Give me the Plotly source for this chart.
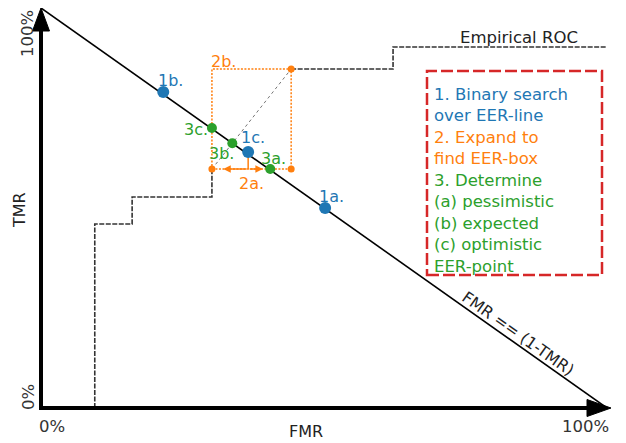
import plotly.graph_objects as go

# ---------------- data ----------------
eer_line_x = [0.0, 1.0]
eer_line_y = [1.0, 0.0]

roc_low_x = [0.095, 0.095, 0.161, 0.161, 0.302, 0.302]
roc_low_y = [0.0, 0.46, 0.46, 0.5275, 0.5275, 0.5975]
roc_high_x = [0.442, 0.622, 0.622, 1.0]
roc_high_y = [0.8475, 0.8475, 0.9025, 0.9025]

search_labels = ["1a.", "1b.", "1c."]
search_x = [0.502, 0.216, 0.366]
search_y = [0.500, 0.790, 0.640]

box_x = [0.302, 0.442]
box_y = [0.5975, 0.8475]
corner_x = [0.302, 0.442, 0.442]
corner_y = [0.5975, 0.5975, 0.8475]

eer_labels = ["3a.", "3b.", "3c."]
eer_x = [0.405, 0.338, 0.302]
eer_y = [0.5975, 0.662, 0.700]

box_lines = ["1. Binary search", "over EER-line", "2. Expand to", "find EER-box",
             "3. Determine", "(a) pessimistic", "(b) expected", "(c) optimistic", "EER-point"]
box_line_colors = ["blue", "blue", "orange", "orange", "green", "green", "green", "green", "green"]

# ---------------- style ----------------
BLUE, ORANGE, GREEN, RED = "#1f77b4", "#ff7f0e", "#2ca02c", "#d62728"
cmap = {"blue": BLUE, "orange": ORANGE, "green": GREEN}
FONT = "DejaVu Sans"
W, H = 626, 443
OFF = 8                      # page body margin of the browser
L, T = 41, 8                 # plot-area corner as seen in the screenshot
PW, PH = 566, 400            # plot-area size


def px(xp):
    return (xp - L) / PW


def py(yp):
    return (T + PH - yp) / PH


fig = go.Figure()

# empirical ROC (dashed step line)
for xs, ys in [(roc_low_x, roc_low_y), (roc_high_x, roc_high_y)]:
    fig.add_trace(go.Scatter(x=xs, y=ys, mode="lines",
                             line=dict(color="#333333", width=1.6, dash="5px,1.5px"),
                             hoverinfo="skip", cliponaxis=False))

# EER box (orange dotted)
bx = [box_x[0], box_x[1], box_x[1], box_x[0], box_x[0]]
by = [box_y[0], box_y[0], box_y[1], box_y[1], box_y[0]]
fig.add_trace(go.Scatter(x=bx, y=by, mode="lines",
                         line=dict(color=ORANGE, width=1.5, dash="2px,1.5px"), hoverinfo="skip"))
# box diagonal (gray dotted)
fig.add_trace(go.Scatter(x=box_x, y=box_y, mode="lines",
                         line=dict(color="#777777", width=1, dash="dot"), hoverinfo="skip"))
# 2a drop line from 1c to box bottom
fig.add_trace(go.Scatter(x=[search_x[2], search_x[2]], y=[search_y[2], box_y[0]], mode="lines",
                         line=dict(color=ORANGE, width=1.5), hoverinfo="skip"))

# EER line
fig.add_trace(go.Scatter(x=eer_line_x, y=eer_line_y, mode="lines",
                         line=dict(color="black", width=1.6), hoverinfo="skip", cliponaxis=False))

# orange corner dots
fig.add_trace(go.Scatter(x=corner_x, y=corner_y, mode="markers",
                         marker=dict(color=ORANGE, size=7), hoverinfo="skip"))
# green EER points
fig.add_trace(go.Scatter(x=eer_x, y=eer_y, mode="markers",
                         marker=dict(color=GREEN, size=10), hoverinfo="skip"))
# blue search points
fig.add_trace(go.Scatter(x=search_x, y=search_y, mode="markers",
                         marker=dict(color=BLUE, size=12), hoverinfo="skip"))

ann = []
lab_font = dict(family=FONT, size=16)

search_shift = {"1a.": (6, 12), "1b.": (7, 12), "1c.": (5, 15)}
for lab, x, y in zip(search_labels, search_x, search_y):
    sx, sy = search_shift[lab]
    ann.append(dict(x=x, y=y, text=lab, showarrow=False, xshift=sx, yshift=sy,
                    xanchor="center", yanchor="middle", font=dict(lab_font, color=BLUE)))
eer_shift = {"3a.": (3, 11), "3b.": (-11, -10), "3c.": (-16, -1)}
for lab, x, y in zip(eer_labels, eer_x, eer_y):
    sx, sy = eer_shift[lab]
    ann.append(dict(x=x, y=y, text=lab, showarrow=False, xshift=sx, yshift=sy,
                    xanchor="center", yanchor="middle", font=dict(lab_font, color=GREEN)))
ann.append(dict(x=box_x[0], y=box_y[1], text="2b.", showarrow=False, xshift=12, yshift=8,
                xanchor="center", yanchor="middle", font=dict(lab_font, color=ORANGE)))
ann.append(dict(x=search_x[2], y=box_y[0], text="2a.", showarrow=False, xshift=3, yshift=-14,
                xanchor="center", yanchor="middle", font=dict(lab_font, color=ORANGE)))
# 2a double arrow
for tx in [0.322, 0.392]:
    ann.append(dict(x=tx, y=box_y[0], ax=search_x[2], ay=box_y[0], axref="x", ayref="y",
                    xref="x", yref="y", text="", showarrow=True, arrowhead=2,
                    arrowsize=1, arrowwidth=1.5, arrowcolor=ORANGE))

ann.append(dict(x=0.845, y=roc_high_y[-1], text="Empirical ROC", showarrow=False, yshift=10,
                xanchor="center", yanchor="middle",
                font=dict(family=FONT, size=16.5, color="#222222")))
ann.append(dict(x=0.843, y=0.1875, text="FMR == (1-TMR)", showarrow=False, textangle=35.3,
                xanchor="center", yanchor="middle",
                font=dict(family=FONT, size=16, color="#222222")))

# explanation box text
txt = "<br>".join(f"<span style='color:{cmap[c]}'>{s}</span>" for s, c in zip(box_lines, box_line_colors))
ann.append(dict(xref="paper", yref="paper", x=px(432), y=py(180), xanchor="left", yanchor="middle",
                text=txt, align="left", showarrow=False, font=dict(family=FONT, size=16.5)))

# axis labels / ticks
tick_font = dict(family=FONT, size=16.5, color="#333333")
ann += [
    dict(xref="paper", yref="paper", x=px(37), y=py(426), text="0%", xanchor="left",
         yanchor="middle", showarrow=False, font=tick_font),
    dict(xref="paper", yref="paper", x=px(611), y=py(426), text="100%", xanchor="right",
         yanchor="middle", showarrow=False, font=tick_font),
    dict(xref="paper", yref="paper", x=px(28), y=py(397), text="0%", textangle=-90,
         xanchor="center", yanchor="middle", showarrow=False, font=tick_font),
    dict(xref="paper", yref="paper", x=px(28), y=py(34), text="100%", textangle=-90,
         xanchor="center", yanchor="middle", showarrow=False, font=tick_font),
    dict(xref="paper", yref="paper", x=px(306), y=py(431), text="FMR",
         xanchor="center", yanchor="middle", showarrow=False,
         font=dict(family=FONT, size=16, color="#222222")),
    dict(xref="paper", yref="paper", x=px(19), y=py(210), text="TMR", textangle=-90,
         xanchor="center", yanchor="middle", showarrow=False,
         font=dict(family=FONT, size=16, color="#222222")),
]

shapes = [
    # red dashed explanation box
    dict(type="rect", xref="paper", yref="paper", x0=px(427), x1=px(602), y0=py(275), y1=py(71),
         line=dict(color=RED, width=2.5, dash="12px,4px")),
    # axes
    dict(type="line", xref="paper", yref="paper", x0=px(41), y0=py(410), x1=px(41), y1=py(25),
         line=dict(color="black", width=4)),
    dict(type="line", xref="paper", yref="paper", x0=px(39), y0=py(408), x1=px(592), y1=py(408),
         line=dict(color="black", width=4)),
    dict(type="path", xref="paper", yref="paper",
         path=f"M {px(41)} {py(8)} L {px(32.5)} {py(31)} L {px(49.5)} {py(31)} Z",
         fillcolor="black", line=dict(color="black", width=1)),
    dict(type="path", xref="paper", yref="paper",
         path=f"M {px(611)} {py(408)} L {px(587)} {py(399.5)} L {px(587)} {py(416.5)} Z",
         fillcolor="black", line=dict(color="black", width=1)),
]

fig.update_layout(
    width=W, height=H,
    margin=dict(l=L - OFF, t=T - OFF, r=W - (L - OFF) - PW, b=H - (T - OFF) - PH),
    paper_bgcolor="white", plot_bgcolor="white", showlegend=False,
    xaxis=dict(range=[0, 1], visible=False, fixedrange=True),
    yaxis=dict(range=[0, 1], visible=False, fixedrange=True),
    annotations=ann, shapes=shapes, font=dict(family=FONT),
)

fig.write_html("out.html")
